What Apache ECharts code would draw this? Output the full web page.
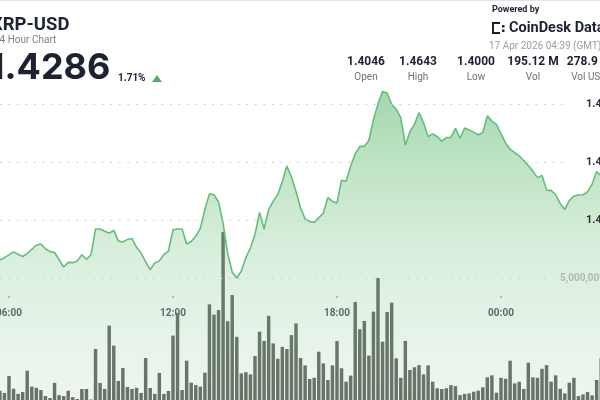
<!DOCTYPE html>
<html>
<head>
<meta charset="utf-8">
<script src="https://cdn.jsdelivr.net/npm/echarts@6/dist/echarts.min.js"></script>
<style>
html,body{margin:0;padding:0;background:#fff;overflow:hidden}
#chart{width:600px;height:400px}
</style>
</head>
<body>
<div id="chart"></div>
<script>
// 10-minute candles, 05:40 through 03:40 the next morning
const times = [];
for (let n = 0, m = 5 * 60 + 40; n < 133; n++, m += 10) {
  const t = m % 1440;
  times.push(String(Math.floor(t / 60)).padStart(2, '0') + ':' + String(t % 60).padStart(2, '0'));
}

// XRP-USD close price per 10 minutes
const price = [
  1.4062, 1.4070, 1.4080, 1.4090, 1.4082, 1.4074, 1.4084, 1.4099, 1.4113, 1.4117,
  1.4101, 1.4091, 1.4088, 1.4063, 1.4038, 1.4054, 1.4053, 1.4059, 1.4080, 1.4064,
  1.4080, 1.4169, 1.4169, 1.4161, 1.4155, 1.4164, 1.4128, 1.4124, 1.4133, 1.4136,
  1.4106, 1.4086, 1.4056, 1.4028, 1.4052, 1.4059, 1.4081, 1.4093, 1.4166, 1.4169,
  1.4169, 1.4117, 1.4126, 1.4144, 1.4171, 1.4236, 1.4290, 1.4287, 1.4262, 1.4188,
  1.4085, 1.4020, 1.4000, 1.4024, 1.4070, 1.4104, 1.4150, 1.4226, 1.4169, 1.4236,
  1.4265, 1.4288, 1.4333, 1.4386, 1.4349, 1.4298, 1.4242, 1.4204, 1.4195, 1.4192,
  1.4208, 1.4223, 1.4278, 1.4264, 1.4259, 1.4337, 1.4333, 1.4385, 1.4428, 1.4454,
  1.4454, 1.4474, 1.4546, 1.4600, 1.4643, 1.4638, 1.4599, 1.4582, 1.4553, 1.4459,
  1.4504, 1.4530, 1.4570, 1.4535, 1.4488, 1.4497, 1.4488, 1.4472, 1.4484, 1.4485,
  1.4516, 1.4482, 1.4517, 1.4510, 1.4503, 1.4494, 1.4502, 1.4559, 1.4541, 1.4530,
  1.4497, 1.4466, 1.4444, 1.4432, 1.4421, 1.4405, 1.4388, 1.4368, 1.4346, 1.4354,
  1.4303, 1.4302, 1.4287, 1.4257, 1.4236, 1.4268, 1.4282, 1.4286, 1.4287, 1.4297,
  1.4324, 1.4367, 1.4352
];

// traded volume per 10 minutes, millions of XRP
const volume = [
  0.38, 0.29, 0.98, 0.46, 0.25, 0.33, 1.20, 0.55, 0.50, 0.41,
  0.16, 0.08, 0.70, 0.20, 0.16, 0.38, 0.12, 0.04, 0.45, 0.45,
  0.02, 2.09, 0.70, 0.45, 3.05, 2.23, 0.78, 1.31, 0.53, 0.45,
  0.50, 0.29, 1.72, 0.49, 0.25, 1.11, 0.25, 0.37, 2.64, 3.57,
  0.41, 1.61, 0.71, 0.61, 0.55, 1.12, 3.92, 3.50, 3.69, 6.89,
  3.23, 4.30, 2.59, 1.09, 1.14, 1.05, 1.80, 2.80, 2.42, 3.45,
  2.32, 1.69, 2.18, 2.09, 2.66, 3.14, 1.72, 1.42, 0.86, 0.91,
  1.98, 1.50, 0.82, 1.42, 2.42, 1.30, 0.75, 1.00, 4.02, 2.90,
  3.24, 1.82, 3.62, 5.00, 2.39, 3.61, 3.99, 1.71, 0.91, 2.42,
  1.23, 1.34, 1.43, 1.05, 1.42, 0.75, 0.48, 0.45, 0.48, 0.61,
  0.57, 0.20, 0.25, 0.27, 0.34, 0.38, 0.52, 0.93, 1.01, 0.30,
  0.91, 0.87, 1.61, 0.68, 0.75, 0.45, 1.53, 0.93, 0.91, 1.28,
  1.43, 0.75, 1.01, 0.46, 0.27, 0.71, 0.91, 0.16, 0.23, 0.33,
  0.19, 0.82, 1.71
];

const priceTicks = [1.42, 1.44, 1.46];
const volumeTick = 5; // millions

const stats = [
  { value: '1.4046', label: 'Open', x: 366 },
  { value: '1.4643', label: 'High', x: 418 },
  { value: '1.4000', label: 'Low', x: 476 },
  { value: '195.12 M', label: 'Vol', x: 533 },
  { value: '278.9 M', label: 'Vol USD', x: 589 }
];

const FONT = 'Roboto, "Noto Sans", sans-serif';
const WIDE = 'Inter, "Open Sans", sans-serif';
const INK = '#1c2230';

const chart = echarts.init(document.getElementById('chart'), null, { renderer: 'canvas' });

const dotted = { show: true, lineStyle: { color: '#c9ccc9', type: [1.5, 7], width: 1.2 } };

const graphic = [
  { type: 'rect', shape: { x: 0, y: 0, width: 600, height: 1 }, style: { fill: '#e2e4e6' }, z: 10 },
  { type: 'text', x: -9, y: 25, z: 10, style: { text: 'XRP-USD', font: 'bold 18.5px ' + FONT, fill: INK, verticalAlign: 'middle' } },
  { type: 'text', x: -6, y: 40, z: 10, style: { text: '24 Hour Chart', font: '10px ' + FONT, fill: '#7b8089', verticalAlign: 'middle' } },
  { type: 'text', x: -11, y: 68, z: 10, style: { text: '1.4286', font: 'bold 36px ' + WIDE, fill: INK, verticalAlign: 'middle' } },
  { type: 'text', x: 118, y: 78, z: 10, style: { text: '1.71%', font: 'bold 10px ' + FONT, fill: INK, verticalAlign: 'middle' } },
  { type: 'polygon', z: 10, shape: { points: [[152, 82], [162, 82], [157, 75]] }, style: { fill: '#4fae6c' } },
  { type: 'text', x: 492, y: 10, z: 10, style: { text: 'Powered by', font: 'bold 9px ' + FONT, fill: INK, verticalAlign: 'middle' } },
  // CoinDesk Data mark
  { type: 'rect', z: 10, shape: { x: 492, y: 22, width: 2, height: 12 }, style: { fill: INK } },
  { type: 'rect', z: 10, shape: { x: 492, y: 22, width: 8, height: 2 }, style: { fill: INK } },
  { type: 'rect', z: 10, shape: { x: 492, y: 32, width: 8, height: 2 }, style: { fill: INK } },
  { type: 'rect', z: 10, shape: { x: 502, y: 25, width: 2.5, height: 2.5 }, style: { fill: INK } },
  { type: 'rect', z: 10, shape: { x: 502, y: 29.5, width: 2.5, height: 2.5 }, style: { fill: INK } },
  { type: 'text', x: 509, y: 28, z: 10, style: { text: 'CoinDesk Data', font: 'bold 14.5px ' + FONT, fill: INK, verticalAlign: 'middle' } },
  { type: 'text', x: 489, y: 46, z: 10, style: { text: '17 Apr 2026 04:39 (GMT)', font: '10px ' + FONT, fill: '#9a9ea5', verticalAlign: 'middle' } }
];
stats.forEach(s => {
  graphic.push({ type: 'text', x: s.x, y: 62, z: 10, style: { text: s.value, font: 'bold 12px ' + FONT, fill: INK, align: 'center', verticalAlign: 'middle' } });
  graphic.push({ type: 'text', x: s.x, y: 77, z: 10, style: { text: s.label, font: '10px ' + FONT, fill: '#6d727b', align: 'center', verticalAlign: 'middle' } });
});

const SERIES_LEFT = -2.4, SERIES_WIDTH = 605.9;

chart.setOption({
  animation: false,
  backgroundColor: '#ffffff',
  graphic: graphic,
  grid: [
    { left: SERIES_LEFT, width: SERIES_WIDTH, top: 46, height: 354, outerBoundsMode: 'none' },   // price line
    { left: SERIES_LEFT, width: SERIES_WIDTH, top: 156, height: 244, outerBoundsMode: 'none' },  // volume bars
    { left: 0, right: 30, top: 104, height: 116, outerBoundsMode: 'none' },                       // price scale
    { left: 0, right: 48, top: 278, height: 122, outerBoundsMode: 'none' }                        // volume scale
  ],
  xAxis: [
    { gridIndex: 0, type: 'category', data: times, boundaryGap: true, show: false },
    {
      gridIndex: 1, type: 'category', data: times, boundaryGap: true,
      axisLine: { show: false }, axisTick: { show: false }, splitLine: { show: false },
      axisLabel: {
        inside: true, margin: 81, z: 12,
        interval: (i, v) => v.endsWith(':00') && parseInt(v, 10) % 6 === 0,
        formatter: v => '{d|}\n{t|' + v + '}',
        rich: {
          d: { width: 1.5, height: 1.5, backgroundColor: '#6b6f75', lineHeight: 20 },
          t: { fontFamily: FONT, fontWeight: 'bold', fontSize: 10, color: '#2b303b', lineHeight: 12 }
        }
      }
    },
    { gridIndex: 2, type: 'value', min: 0, max: 1, show: false },
    { gridIndex: 3, type: 'value', min: 0, max: 1, show: false }
  ],
  yAxis: [
    { gridIndex: 0, type: 'value', min: 1.357931, max: 1.48, show: false },
    { gridIndex: 1, type: 'value', min: 0, max: 10, show: false },
    {
      gridIndex: 2, type: 'value', position: 'right', z: 12,
      min: priceTicks[0], max: priceTicks[priceTicks.length - 1], interval: 0.02,
      axisLine: { show: false }, axisTick: { show: false },
      splitLine: dotted,
      axisLabel: { margin: 16, fontFamily: FONT, fontWeight: 'bold', fontSize: 11, color: '#2b303b', formatter: v => v.toFixed(4) }
    },
    {
      gridIndex: 3, type: 'value', position: 'right', z: 12,
      min: 0, max: volumeTick, interval: volumeTick,
      axisLine: { show: false }, axisTick: { show: false },
      splitLine: Object.assign({ showMinLine: false }, dotted),
      axisLabel: {
        margin: 8, fontFamily: FONT, fontWeight: 'bold', fontSize: 10, color: '#b3b8b3',
        showMinLabel: false,
        formatter: v => v ? Math.round(v * 1e6).toLocaleString('en-US') : ''
      }
    }
  ],
  series: [
    {
      type: 'bar', xAxisIndex: 1, yAxisIndex: 1, data: volume, z: 2,
      barCategoryGap: '24%',
      itemStyle: { color: '#40463f' }
    },
    {
      type: 'line', xAxisIndex: 0, yAxisIndex: 0, data: price, z: 3,
      showSymbol: false, smooth: false,
      lineStyle: { color: '#66bd7b', width: 1.6 },
      areaStyle: {
        origin: 'start',
        color: new echarts.graphic.LinearGradient(0, 0, 0, 1, [
          { offset: 0, color: 'rgba(95,186,112,0.82)' },
          { offset: 0.55, color: 'rgba(160,214,170,0.55)' },
          { offset: 1, color: 'rgba(200,222,203,0.42)' }
        ])
      }
    }
  ]
});
</script>
</body>
</html>
